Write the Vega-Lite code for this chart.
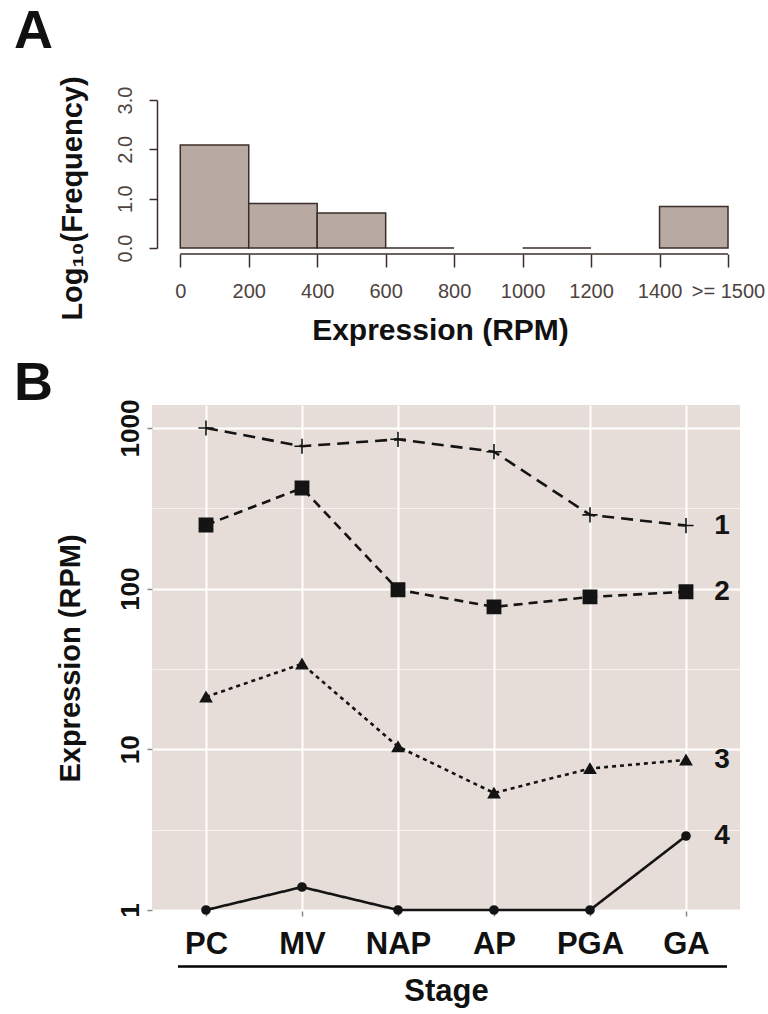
{
  "$schema": "https://vega.github.io/schema/vega-lite/v6.json",
  "background": "white",
  "padding": {"left": 14, "top": 4, "right": 5, "bottom": 5},
  "config": {"font": "Liberation Sans", "view": {"stroke": null}},
  "spacing": 12,
  "vconcat": [
    {
      "width": 576,
      "height": 148,
      "title": {"text": "A", "anchor": "start", "frame": "group", "dx": -138, "offset": 17, "fontSize": 54, "fontWeight": "bold", "color": "#111111"},
      "layer": [
        {
          "data": {"values": [
            {"lo": 0, "hi": 200, "logfreq": 2.09},
            {"lo": 200, "hi": 400, "logfreq": 0.9},
            {"lo": 400, "hi": 600, "logfreq": 0.71},
            {"lo": 600, "hi": 800, "logfreq": 0},
            {"lo": 1000, "hi": 1200, "logfreq": 0},
            {"lo": 1400, "hi": 1600, "logfreq": 0.84}
          ]},
          "mark": {"type": "bar", "fill": "#b8aaa2", "stroke": "#3b2e2a", "strokeWidth": 1.5},
          "encoding": {
            "x": {
              "field": "lo", "type": "quantitative",
              "scale": {"domain": [-82.6, 1600], "nice": false, "zero": false},
              "axis": {
                "values": [0, 200, 400, 600, 800, 1000, 1200, 1400, 1600],
                "format": "d",
                "labelExpr": "datum.value == 1600 ? '>= 1500' : datum.label",
                "domain": false, "grid": false, "offset": 6, "tickSize": 13,
                "tickColor": "#3b2e2a", "tickWidth": 1.5,
                "labelFontSize": 20, "labelColor": "#4d4340", "labelPadding": 14,
                "labelFlush": false, "labelOverlap": false,
                "title": "Expression (RPM)", "titleFontSize": 30, "titleFontWeight": "bold",
                "titleColor": "#111111", "titlePadding": 14
              }
            },
            "x2": {"field": "hi"},
            "y": {
              "field": "logfreq", "type": "quantitative",
              "scale": {"domain": [0, 3], "nice": false},
              "axis": {
                "values": [0, 0.5, 1, 1.5, 2, 2.5, 3],
                "labelExpr": "datum.value % 1 == 0 ? format(datum.value, '.1f') : ''",
                "offset": -5, "domainColor": "#3b2e2a", "domainWidth": 1.5,
                "tickColor": "#3b2e2a", "tickWidth": 1.5, "tickSize": 8,
                "labelAngle": -90, "labelFontSize": 20, "labelColor": "#4d4340", "labelPadding": 14,
                "labelOverlap": false, "grid": false,
                "title": "Log₁₀(Frequency)", "titleFontSize": 29, "titleFontWeight": "bold",
                "titleColor": "#111111", "titleY": 98, "titlePadding": 28
              }
            },
            "y2": {"datum": 0}
          }
        },
        {
          "data": {"values": [{}]},
          "mark": {"type": "rule", "stroke": "#3b2e2a", "strokeWidth": 1.5},
          "encoding": {
            "x": {"datum": 0, "type": "quantitative"},
            "x2": {"datum": 1600},
            "y": {"datum": -0.12, "type": "quantitative"}
          }
        }
      ]
    },
    {
      "width": 588,
      "height": 506,
      "title": {"text": "B", "anchor": "start", "frame": "group", "dx": -138, "offset": -12, "fontSize": 54, "fontWeight": "bold", "color": "#111111"},
      "view": {"fill": "#e6dcd8", "stroke": null},
      "data": {"values": [
        {"series": "1", "stage": "PC", "rpm": 1000},
        {"series": "1", "stage": "MV", "rpm": 770},
        {"series": "1", "stage": "NAP", "rpm": 850},
        {"series": "1", "stage": "AP", "rpm": 712},
        {"series": "1", "stage": "PGA", "rpm": 288},
        {"series": "1", "stage": "GA", "rpm": 247},
        {"series": "2", "stage": "PC", "rpm": 249},
        {"series": "2", "stage": "MV", "rpm": 423},
        {"series": "2", "stage": "NAP", "rpm": 98.5},
        {"series": "2", "stage": "AP", "rpm": 77},
        {"series": "2", "stage": "PGA", "rpm": 88.8},
        {"series": "2", "stage": "GA", "rpm": 95.7},
        {"series": "3", "stage": "PC", "rpm": 21.2},
        {"series": "3", "stage": "MV", "rpm": 34},
        {"series": "3", "stage": "NAP", "rpm": 10.4},
        {"series": "3", "stage": "AP", "rpm": 5.35},
        {"series": "3", "stage": "PGA", "rpm": 7.6},
        {"series": "3", "stage": "GA", "rpm": 8.6},
        {"series": "4", "stage": "PC", "rpm": 1},
        {"series": "4", "stage": "MV", "rpm": 1.39},
        {"series": "4", "stage": "NAP", "rpm": 1},
        {"series": "4", "stage": "AP", "rpm": 1},
        {"series": "4", "stage": "PGA", "rpm": 1},
        {"series": "4", "stage": "GA", "rpm": 2.89}
      ]},
      "layer": [
        {
          "mark": {"type": "line", "strokeWidth": 2.6, "color": "#141414"},
          "encoding": {
            "x": {
              "field": "stage", "type": "ordinal",
              "sort": ["PC", "MV", "NAP", "AP", "PGA", "GA"],
              "scale": {"type": "point", "padding": 0.5625},
              "axis": {
                "title": "Stage", "domain": false, "grid": true, "gridColor": "#ffffff", "gridWidth": 2,
                "tickColor": "#8a8a8a", "tickSize": 5, "tickWidth": 1.5,
                "labelAngle": 0, "labelFontSize": 31, "labelFontWeight": "bold", "labelColor": "#111111",
                "labelPadding": 13, "titleFontSize": 31, "titleFontWeight": "bold", "titleColor": "#111111",
                "titlePadding": 17
              }
            },
            "y": {
              "field": "rpm", "type": "quantitative",
              "scale": {"type": "log", "domain": [0.986, 1390], "nice": false},
              "axis": {
                "values": [1, 3.1623, 10, 31.623, 100, 316.23, 1000],
                "labelExpr": "abs(log(datum.value)/LN10 - round(log(datum.value)/LN10)) < 0.01 ? format(datum.value, 'd') : ''",
                "domain": false, "grid": true, "gridColor": "#ffffff",
                "gridWidth": {"condition": {"test": "abs(log(datum.value)/LN10 - round(log(datum.value)/LN10)) < 0.01", "value": 2}, "value": 1},
                "gridOpacity": {"condition": {"test": "abs(log(datum.value)/LN10 - round(log(datum.value)/LN10)) < 0.01", "value": 1}, "value": 0.6},
                "tickColor": "#8a8a8a", "tickSize": 5, "tickWidth": 1.5,
                "tickOpacity": {"condition": {"test": "abs(log(datum.value)/LN10 - round(log(datum.value)/LN10)) < 0.01", "value": 1}, "value": 0},
                "labelAngle": -90, "labelFontSize": 26, "labelFontWeight": "bold", "labelColor": "#111111",
                "labelPadding": 4, "labelOverlap": false,
                "title": "Expression (RPM)", "titleFontSize": 29, "titleFontWeight": "bold", "titleColor": "#111111",
                "titlePadding": 32
              }
            },
            "detail": {"field": "series"},
            "strokeDash": {
              "field": "series", "type": "nominal",
              "scale": {"domain": ["1", "2", "3", "4"], "range": [[12, 7], [9, 6], [4, 4], [1, 0]]},
              "legend": null
            }
          }
        },
        {
          "mark": {"type": "point", "filled": true, "opacity": 1, "color": "#141414", "stroke": "#141414", "strokeWidth": 1.6},
          "encoding": {
            "x": {"field": "stage", "type": "ordinal", "sort": ["PC", "MV", "NAP", "AP", "PGA", "GA"]},
            "y": {"field": "rpm", "type": "quantitative"},
            "shape": {
              "field": "series", "type": "nominal",
              "scale": {"domain": ["1", "2", "3", "4"], "range": ["M-1,0L1,0M0,-1L0,1", "square", "triangle-up", "circle"]},
              "legend": null
            },
            "size": {
              "field": "series", "type": "nominal",
              "scale": {"domain": ["1", "2", "3", "4"], "range": [230, 65, 100, 45]},
              "legend": null
            }
          }
        },
        {
          "transform": [{"filter": "datum.stage == 'GA'"}],
          "mark": {"type": "text", "dx": 36, "fontSize": 28, "fontWeight": "bold", "color": "#141414", "align": "center", "baseline": "middle"},
          "encoding": {
            "x": {"field": "stage", "type": "ordinal", "sort": ["PC", "MV", "NAP", "AP", "PGA", "GA"]},
            "y": {"field": "rpm", "type": "quantitative"},
            "text": {"field": "series"}
          }
        },
        {
          "data": {"values": [{}]},
          "mark": {"type": "rule", "strokeWidth": 2.6, "color": "#000000", "xOffset": -28, "x2Offset": 41},
          "encoding": {
            "x": {"datum": "PC", "type": "ordinal"},
            "x2": {"datum": "GA"},
            "y": {"datum": 0.445, "type": "quantitative"}
          }
        }
      ]
    }
  ]
}
